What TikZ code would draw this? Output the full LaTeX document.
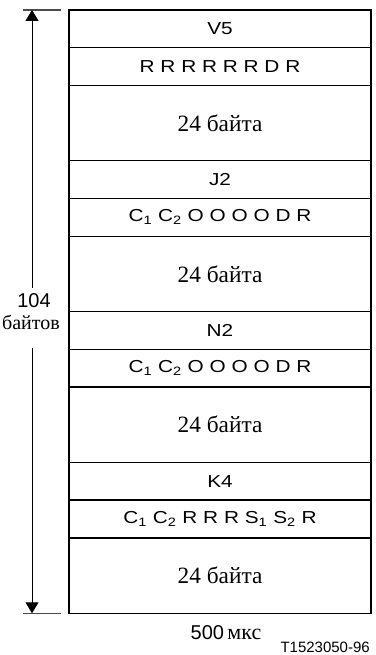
\documentclass[tikz,border=0pt]{standalone}
\usepackage{fontspec}
\setmainfont{Liberation Serif}
\setsansfont{Liberation Sans}
\newfontfamily\fieldfont[FakeStretch=1.2]{Liberation Sans}
\usetikzlibrary{arrows.meta,positioning,calc}
\tikzset{
  fieldbox/.style={draw=black, line width=1pt, outer sep=0pt, inner sep=0pt, minimum width=226.5pt, font=\fieldfont\fontsize{13}{15}\selectfont},
  smallrow/.style={fieldbox, minimum height=28.28pt},
  datarow/.style={fieldbox, minimum height=56.55pt, font=\rmfamily\fontsize{17.5}{20}\selectfont},
  dimarrow/.style={-{Triangle[length=8.25pt,width=9.75pt]}, line width=0.75pt},
  dimtick/.style={line width=0.9pt, draw=black!70},
}
\newcommand{\bitsub}[2]{#1\textsubscript{#2}}

\begin{document}
\begin{tikzpicture}[x=0.75pt, y=-0.75pt, node distance=0pt]
    \useasboundingbox (0,0) rectangle (375,655);
    \node[smallrow, anchor=north west] (v5) at (69,10) {V5};
    \node[smallrow, below=of v5] (vbits) {R R R R R R D R};
    \node[datarow, below=of vbits] (vdata) {24 байта};
    \node[smallrow, below=of vdata] (j2) {J2};
    \node[smallrow, below=of j2] (jbits) {\bitsub{C}{1} \bitsub{C}{2} O O O O D R};
    \node[datarow, below=of jbits] (jdata) {24 байта};
    \node[smallrow, below=of jdata] (n2) {N2};
    \node[smallrow, below=of n2] (nbits) {\bitsub{C}{1} \bitsub{C}{2} O O O O D R};
    \node[datarow, below=of nbits] (ndata) {24 байта};
    \node[smallrow, below=of ndata] (k4) {K4};
    \node[smallrow, below=of k4] (kbits) {\bitsub{C}{1} \bitsub{C}{2} R R R \bitsub{S}{1} \bitsub{S}{2} R};
    \node[datarow, below=of kbits] (kdata) {24 байта};

    \coordinate (toparr) at ([xshift=-27.75pt]v5.north west);
    \coordinate (botarr) at ([xshift=-27.75pt]kdata.south west);
    \coordinate (mid) at ($(toparr)!0.5!(botarr)$);
    \draw[dimtick] ([xshift=-34.5pt]v5.north west) -- ([xshift=-6pt]v5.north west);
    \draw[dimtick] ([xshift=-34.5pt]kdata.south west) -- ([xshift=-6pt]kdata.south west);
    \node[font=\sffamily\fontsize{15}{17}\selectfont, inner sep=0pt] (len) at ([xshift=1.5pt, yshift=7.9pt]mid) {104};
    \node[font=\fontsize{15}{17}\selectfont, inner sep=0pt] (lenunit) at ([xshift=-0.75pt, yshift=-7.9pt]mid) {байтов};
    \draw[dimarrow] ([yshift=17.6pt]mid) -- (toparr);
    \draw[dimarrow] ([yshift=-27.4pt]mid) -- (botarr);

    \node[inner sep=0pt] (period) at ([xshift=4.5pt, yshift=-14.25pt]kdata.south) {{\sffamily\fontsize{15}{17}\selectfont 500} {\fontsize{16.5}{18}\selectfont мкс}};
    \node[anchor=east, inner sep=0pt, font=\sffamily\fontsize{11.25}{13}\selectfont] (figref) at (370,647) {T1523050-96};
\end{tikzpicture}
\end{document}
